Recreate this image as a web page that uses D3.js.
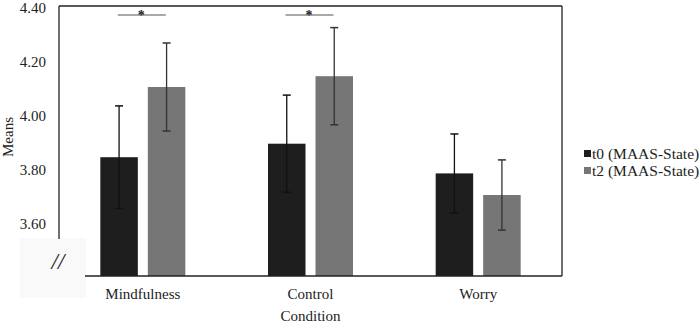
<!DOCTYPE html>
<html>
<head>
<meta charset="utf-8">
<script src="https://cdn.jsdelivr.net/npm/d3@7/dist/d3.min.js"></script>
<style>
  html, body { margin: 0; padding: 0; background: #fff; }
  svg { display: block; }
</style>
</head>
<body>
<svg id="chart" width="700" height="322" font-family="'Liberation Serif', 'DejaVu Serif', serif"></svg>
<script>
const categories = ["Mindfulness", "Control Condition", "Worry"];
const seriesNames = ["t0 (MAAS-State)", "t2 (MAAS-State)"];
const t0Means = [3.84, 3.89, 3.78];
const t0Errors = [0.19, 0.18, 0.146];
const t2Means = [4.10, 4.14, 3.70];
const t2Errors = [0.163, 0.18, 0.13];
const yTicks = [3.60, 3.80, 4.00, 4.20, 4.40];
const significant = ["Mindfulness", "Control Condition"];

const FONT = "'Liberation Serif', 'DejaVu Serif', serif";
const colors = ["#1e1e1e", "#767676"];
const errColors = ["#111", "#333"];

const svg = d3.select("#chart");
const mLeft = 59, mRight = 562, mTop = 6, mBottom = 276;

const y = d3.scaleLinear().domain([3.4, 4.4]).range([mBottom, mTop]);
const x0 = d3.scaleBand().domain(categories).range([mLeft, mRight]).paddingInner(0).paddingOuter(0);
const bw = x0.bandwidth();
const x1 = d3.scaleBand().domain(seriesNames).range([bw / 2 - 42.5, bw / 2 + 42.5]).paddingInner(10 / 47.5).paddingOuter(0);

const data = [];
categories.forEach((c, i) => {
  data.push({cat: c, s: seriesNames[0], v: t0Means[i], e: t0Errors[i], k: 0});
  data.push({cat: c, s: seriesNames[1], v: t2Means[i], e: t2Errors[i], k: 1});
});

function txt(sel) {
  return sel.attr("font-family", FONT).style("font-family", FONT).attr("fill", "#222");
}

// break box
svg.append("rect").attr("x", 20).attr("y", 238).attr("width", 66).attr("height", 60).attr("fill", "#f9f9f9");
txt(svg.append("text")).attr("x", 58).attr("y", 269).attr("text-anchor", "middle")
  .style("font-size", "23px").style("font-style", "italic").text("//");

// bars
svg.append("g").selectAll("rect").data(data).join("rect")
  .attr("x", d => x0(d.cat) + x1(d.s))
  .attr("y", d => y(d.v))
  .attr("width", x1.bandwidth())
  .attr("height", d => y(3.4) - y(d.v))
  .attr("fill", d => colors[d.k]);

// error bars
const eg = svg.append("g");
data.forEach(d => {
  const cx = x0(d.cat) + x1(d.s) + x1.bandwidth() / 2;
  const col = errColors[d.k];
  eg.append("line").attr("x1", cx).attr("x2", cx).attr("y1", y(d.v + d.e)).attr("y2", y(d.v - d.e))
    .attr("stroke", col).attr("stroke-width", 1.3);
  [d.v + d.e, d.v - d.e].forEach(val => {
    eg.append("line").attr("x1", cx - 4).attr("x2", cx + 4).attr("y1", y(val)).attr("y2", y(val))
      .attr("stroke", col).attr("stroke-width", 1.5);
  });
});

// frame
const fr = svg.append("g").attr("stroke", "#222").attr("stroke-width", 1.3).attr("fill", "none");
fr.append("line").attr("x1", mLeft).attr("x2", mRight).attr("y1", mTop).attr("y2", mTop);
fr.append("line").attr("x1", mRight).attr("x2", mRight).attr("y1", mTop).attr("y2", mBottom);
fr.append("line").attr("x1", 85).attr("x2", mRight).attr("y1", mBottom).attr("y2", mBottom);
fr.append("line").attr("x1", mLeft).attr("x2", mLeft).attr("y1", mTop).attr("y2", 239);

// y axis labels
const yAxis = d3.axisLeft(y).tickValues(yTicks).tickFormat(d3.format(".2f")).tickSize(0).tickPadding(13);
const ya = svg.append("g").attr("transform", `translate(${mLeft},0)`).call(yAxis);
ya.attr("font-family", FONT);
ya.select(".domain").remove();
txt(ya.selectAll("text")).style("font-size", "15px").attr("dy", "0.45em");

txt(svg.append("text")).attr("transform", "translate(13,137) rotate(-90)").attr("text-anchor", "middle")
  .style("font-size", "15px").text("Means");

// x labels
const xl = svg.append("g");
categories.forEach(c => {
  const words = c === "Control Condition" ? ["Control", "Condition"] : [c];
  words.forEach((w, i) => {
    txt(xl.append("text")).attr("x", x0(c) + bw / 2).attr("y", 299 + i * 21.5).attr("text-anchor", "middle")
      .style("font-size", "15px").text(w);
  });
});

// significance
significant.forEach(c => {
  const cx = x0(c) + bw / 2;
  svg.append("line").attr("x1", cx - 25).attr("x2", cx + 23).attr("y1", 15).attr("y2", 15)
    .attr("stroke", "#555").attr("stroke-width", 1);
  txt(svg.append("text")).attr("x", cx - 1.5).attr("y", 19.5).attr("text-anchor", "middle")
    .style("font-size", "14px").style("font-weight", "bold").text("*");
});

// legend
const lg = svg.append("g");
seriesNames.forEach((s, i) => {
  const yy = 154 + i * 17;
  lg.append("rect").attr("x", 584).attr("y", yy - 4).attr("width", 7).attr("height", 7).attr("fill", colors[i]);
  txt(lg.append("text")).attr("x", 592).attr("y", yy + 5).style("font-size", "15.5px").text(s);
});
</script>
</body>
</html>
